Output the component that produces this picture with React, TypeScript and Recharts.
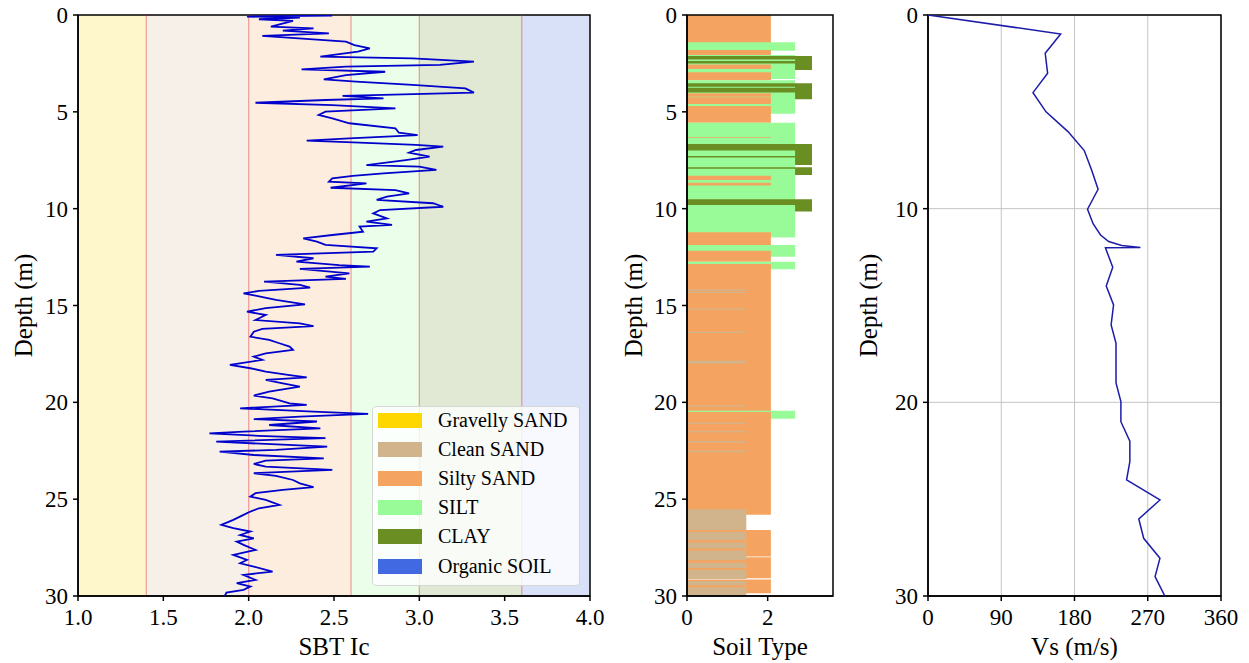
import React from 'react';
import {
  ComposedChart,
  Scatter,
  XAxis,
  YAxis,
  ReferenceArea,
  ReferenceLine,
  CartesianGrid,
} from 'recharts';

const FONT = "'Liberation Serif', 'Times New Roman', 'DejaVu Serif', serif";

// ---------- SBT Ic profile ----------
const icDepth = [
  0.0, 0.03, 0.08, 0.14, 0.22, 0.3, 0.6, 0.69, 0.81, 0.95, 1.08, 1.38, 1.55, 1.72, 1.89, 2.15, 2.24, 2.41, 2.58, 2.67,
  2.81, 2.93, 3.1, 3.32, 3.44, 3.61, 3.79, 4.01, 4.18, 4.3, 4.39, 4.53, 4.65, 4.82, 4.99, 5.16, 5.34, 5.59, 5.85, 6.08,
  6.2, 6.37, 6.49, 6.59, 6.71, 6.8, 6.97, 7.11, 7.31, 7.49, 7.75, 7.83, 8.0, 8.18, 8.31, 8.43, 8.61, 8.69, 8.92, 9.04,
  9.21, 9.38, 9.55, 9.72, 9.9,
  10.07, 10.24, 10.5, 10.67, 10.84, 10.93, 11.19, 11.36, 11.53, 11.7, 11.87, 12.05, 12.22, 12.39, 12.56, 12.73, 12.91,
  12.99, 13.11, 13.34, 13.51, 13.63, 13.77, 13.94, 14.08, 14.25, 14.37, 14.49, 14.71, 14.94, 15.14, 15.32, 15.49, 15.75,
  15.92, 16.06, 16.21, 16.35, 16.61, 16.78, 16.95, 17.12, 17.29, 17.47, 17.64, 17.81, 18.07, 18.24, 18.41, 18.59, 18.71,
  18.84, 19.02, 19.19, 19.45, 19.65, 19.79, 20.05,
  20.13, 20.31, 20.48, 20.6, 20.74, 20.87, 20.99, 21.17, 21.34, 21.51, 21.6, 21.73, 21.85, 22.03, 22.15, 22.29, 22.46,
  22.54, 22.72, 22.89, 23.01, 23.18, 23.32, 23.49, 23.66, 23.8, 24.01, 24.18, 24.38, 24.52, 24.69, 24.87, 25.04, 25.3,
  25.47, 25.64, 25.81, 26.07, 26.33, 26.5, 26.67, 26.85, 27.02, 27.19, 27.36, 27.62, 27.88, 28.14, 28.31, 28.48, 28.74,
  28.91, 29.17, 29.34, 29.51, 29.68, 29.82, 30.0,
];
const icValue = [
  2.35, 2.49, 1.99, 2.3, 2.06, 2.26, 2.13, 2.38, 2.2, 2.47, 2.08, 2.57, 2.62, 2.71, 2.64, 2.42, 2.96, 3.32, 3.12, 2.57,
  2.31, 2.8, 2.57, 2.44, 2.63, 2.96, 3.27, 3.32, 2.55, 2.79, 2.45, 2.04, 2.49, 2.86, 2.45, 2.41, 2.49, 2.59, 2.86, 2.88,
  2.99, 2.59, 2.34, 2.65, 2.98, 3.14, 2.98, 2.94, 3.06, 2.92, 2.69, 3.0, 3.1, 2.79, 2.61, 2.49, 2.47, 2.69, 2.48, 2.86,
  2.94, 2.81, 2.75, 3.08, 3.14,
  2.77, 2.73, 2.81, 2.69, 2.84, 2.65, 2.67, 2.49, 2.32, 2.4, 2.45, 2.75, 2.73, 2.16, 2.38, 2.28, 2.53, 2.71, 2.3, 2.59,
  2.45, 2.57, 2.09, 2.3, 2.36, 2.06, 1.97, 2.04, 2.16, 2.33, 2.1, 1.99, 2.1, 2.04, 2.3, 2.38, 2.08, 2.03, 2.01, 2.12,
  2.18, 2.24, 2.26, 2.1, 2.03, 2.08, 1.89, 2.01, 2.1, 2.24, 2.34, 2.1, 2.2, 2.3, 2.12, 2.03, 2.14, 2.24,
  2.34, 1.95, 2.38, 2.7, 2.3, 2.03, 2.4, 2.12, 2.42, 1.97, 1.77, 2.06, 2.45, 1.81, 2.1, 2.46, 2.16, 1.83, 2.03, 2.44,
  2.1, 2.03, 2.1, 2.49, 2.03, 2.16, 2.26, 2.3, 2.38, 2.2, 2.04, 2.01, 2.1, 2.18, 2.06, 2.01, 1.97, 1.91, 1.84, 1.91,
  2.01, 1.95, 2.03, 1.93, 1.97, 2.04, 1.91, 1.99, 1.95, 2.03, 2.14, 1.97, 2.04, 1.93, 2.01, 1.97, 1.87, 1.86,
];

// ---------- Vs profile ----------
const vsDepth = [
  0, 0.98, 1.98, 3.01, 4.01, 5.0, 6.02, 7.0, 8.0, 9.0, 10.03, 10.79, 11.36, 11.7, 11.9, 12.0, 12.02, 13.03, 13.99,
  14.97, 16.0, 16.95, 17.98, 19.0, 19.96, 21.0, 22.0, 23.06, 24.0, 25.04, 26.02, 27.02, 28.05, 29.0, 30.0,
];
const vsValue = [
  0, 163, 144, 147, 129, 145, 172, 192, 201, 209, 196, 203, 212, 222, 238, 261, 218, 227, 219, 228, 225, 231, 231,
  231, 237, 237, 248, 248, 244, 285, 259, 265, 285, 279, 291,
];

// ---------- Soil classes ----------
const soilNames = ['Gravelly SAND', 'Clean SAND', 'Silty SAND', 'SILT', 'CLAY', 'Organic SOIL'];
const soilColors = ['#FFD700', '#D2B48C', '#F4A460', '#98FB98', '#6B8E23', '#4169E1'];
const icBounds = [1.0, 1.4, 2.0, 2.6, 3.0, 3.6, 4.0];
const soilBarValue = [0, 1.47, 2.08, 2.68, 3.1, 0];

// soil-type layers (drawn in order; later layers cover earlier)
const layerTop = [
  0.0, 1.41, 1.81, 2.07, 2.12, 2.3, 2.5, 2.55, 2.96, 3.37, 3.53, 3.7, 4.0, 4.04, 4.25, 4.7, 5.56, 6.3, 6.66, 7.0, 7.36,
  7.86, 7.94, 8.3, 8.66, 9.52, 9.81, 11.22, 11.88, 12.17, 12.74, 12.86, 14.18, 14.3, 15.15, 16.35, 17.85, 20.15, 20.44,
  20.5, 21.05, 21.48, 22.0, 22.5, 25.52, 26.59, 28.0, 29.15, 26.68, 27.24, 27.65, 28.28, 28.65, 29.22, 29.55,
];
const layerBottom = [
  1.45, 1.85, 2.1, 2.15, 2.84, 2.38, 3.3, 2.79, 3.37, 5.08, 4.35, 3.75, 5.08, 4.22, 4.6, 5.56, 11.48, 6.34, 7.75, 7.28,
  7.86, 8.26, 9.52, 8.52, 8.8, 10.15, 11.48, 11.88, 12.48, 12.74, 13.13, 20.46, 14.25, 14.36, 15.22, 16.42, 18.0, 20.22,
  20.85, 25.81, 21.12, 21.55, 22.08, 22.58, 26.59, 27.96, 29.08, 29.86, 27.12, 27.55, 28.15, 28.55, 29.12, 29.45, 30.0,
];
const layerType = [
  2, 3, 2, 3, 4, 3, 3, 2, 2, 3, 4, 3, 3, 2, 2, 2, 3, 2, 4, 3, 3, 4, 3, 2, 2, 4, 3, 2, 3, 2, 3, 2, 1, 1, 1, 1, 1, 1, 3,
  2, 1, 1, 1, 1, 1, 2, 2, 2, 1, 1, 1, 1, 1, 1, 1,
];

// ---------- ticks / domains ----------
const depthDomain = [0, 30];
const depthTicks = [0, 5, 10, 15, 20, 25, 30];
const icDomain = [1, 4];
const icTicks = [1.0, 1.5, 2.0, 2.5, 3.0, 3.5, 4.0];
const soilDomain = [0, 3.62];
const soilTicks = [0, 2];
const vsDomain = [0, 360];
const vsTicks = [0, 90, 180, 270, 360];
const vsDepthTicks = [0, 10, 20, 30];

const icData = icDepth.map((d, i) => ({ depth: d, ic: icValue[i] }));
const vsData = vsDepth.map((d, i) => ({ depth: d, vs: vsValue[i] }));
const layers = layerTop.map((t, i) => ({ top: t, bottom: layerBottom[i], type: layerType[i] }));

const tickStyle = { fill: '#000', fontSize: 23, fontFamily: FONT };
const labelStyle = { fill: '#000', fontSize: 25, fontFamily: FONT };
const AX = { stroke: '#000', strokeWidth: 1.5 };
const noShape = () => <g />;

function frame(xd: number[]) {
  return (
    <ReferenceArea
      x1={xd[0]}
      x2={xd[1]}
      y1={depthDomain[0]}
      y2={depthDomain[1]}
      fill="none"
      fillOpacity={0}
      stroke="#000"
      strokeWidth={1.5}
      ifOverflow="visible"
    />
  );
}

export default function App() {
  return (
    <div
      style={{
        position: 'absolute',
        left: 0,
        top: 0,
        width: 1249,
        height: 663,
        background: '#fff',
        fontFamily: FONT,
        overflow: 'hidden',
      }}
    >
      {/* Left panel: SBT Ic */}
      <div style={{ position: 'absolute', left: 0, top: 0 }}>
        <ComposedChart width={615} height={663} margin={{ top: 15, right: 25, bottom: 7, left: 0 }}>
          <XAxis
            type="number"
            dataKey="ic"
            domain={icDomain}
            ticks={icTicks}
            tickFormatter={(v: number) => v.toFixed(1)}
            height={60}
            tick={tickStyle}
            tickSize={5}
            tickMargin={8}
            axisLine={AX}
            tickLine={AX}
            allowDataOverflow
            label={{ value: 'SBT Ic', position: 'insideBottom', offset: 1, style: labelStyle }}
          />
          <YAxis
            type="number"
            dataKey="depth"
            domain={depthDomain}
            reversed
            ticks={depthTicks}
            width={78}
            tick={tickStyle}
            tickSize={5}
            tickMargin={5}
            axisLine={AX}
            tickLine={AX}
            allowDataOverflow
            label={{ value: 'Depth (m)', angle: -90, position: 'insideLeft', offset: 23, style: { ...labelStyle, textAnchor: 'middle' } }}
          />
          {soilColors.map((c, i) => (
            <ReferenceArea
              key={'band' + i}
              x1={icBounds[i]}
              x2={icBounds[i + 1]}
              y1={0}
              y2={30}
              fill={c}
              fillOpacity={0.2}
              stroke="none"
              ifOverflow="visible"
            />
          ))}
          {icBounds.slice(1, 6).map((b) => (
            <ReferenceLine key={'bl' + b} x={b} stroke="#e03030" strokeOpacity={0.4} strokeWidth={1.3} />
          ))}
          {frame(icDomain)}
          <Scatter
            data={icData}
            line={{ stroke: '#0000cc', strokeWidth: 1.8 }}
            shape={noShape}
            isAnimationActive={false}
            legendType="none"
          />
        </ComposedChart>
        <div
          style={{
            position: 'absolute',
            left: 372,
            top: 406,
            width: 208,
            height: 180,
            background: 'rgba(255,255,255,0.8)',
            border: '1px solid #d6d6d6',
            borderRadius: 4,
            boxSizing: 'border-box',
          }}
        >
          {soilNames.map((n, i) => (
            <div
              key={n}
              style={{
                position: 'absolute',
                left: 5,
                top: 5.5 + i * 29.2,
                height: 15,
                display: 'flex',
                alignItems: 'center',
                whiteSpace: 'nowrap',
              }}
            >
              <div style={{ width: 44, height: 15, background: soilColors[i] }} />
              <span style={{ marginLeft: 16, fontSize: 20, lineHeight: '15px', color: '#000' }}>{n}</span>
            </div>
          ))}
        </div>
      </div>

      {/* Middle panel: Soil type */}
      <div style={{ position: 'absolute', left: 605, top: 0 }}>
        <ComposedChart width={253} height={663} margin={{ top: 15, right: 25, bottom: 7, left: 0 }}>
          <XAxis
            type="number"
            dataKey="x"
            domain={soilDomain}
            ticks={soilTicks}
            height={60}
            tick={tickStyle}
            tickSize={5}
            tickMargin={8}
            axisLine={AX}
            tickLine={AX}
            allowDataOverflow
            label={{ value: 'Soil Type', position: 'insideBottom', offset: 1, style: labelStyle }}
          />
          <YAxis
            type="number"
            dataKey="y"
            domain={depthDomain}
            reversed
            ticks={depthTicks}
            width={82}
            tick={tickStyle}
            tickSize={5}
            tickMargin={5}
            axisLine={AX}
            tickLine={AX}
            allowDataOverflow
            label={{ value: 'Depth (m)', angle: -90, position: 'insideLeft', offset: 28, style: { ...labelStyle, textAnchor: 'middle' } }}
          />
          {layers.map((l, i) => (
            <ReferenceArea
              key={'ly' + i}
              x1={0}
              x2={soilBarValue[l.type]}
              y1={l.top}
              y2={l.bottom}
              fill={soilColors[l.type]}
              fillOpacity={1}
              stroke="none"
              ifOverflow="visible"
            />
          ))}
          {frame(soilDomain)}
        </ComposedChart>
      </div>

      {/* Right panel: Vs */}
      <div style={{ position: 'absolute', left: 845, top: 0 }}>
        <ComposedChart width={401} height={663} margin={{ top: 15, right: 25, bottom: 7, left: 0 }}>
          <CartesianGrid stroke="#c4c4c4" strokeWidth={1} />
          <XAxis
            type="number"
            dataKey="vs"
            domain={vsDomain}
            ticks={vsTicks}
            height={60}
            tick={tickStyle}
            tickSize={5}
            tickMargin={8}
            axisLine={AX}
            tickLine={AX}
            allowDataOverflow
            label={{ value: 'Vs (m/s)', position: 'insideBottom', offset: 1, style: labelStyle }}
          />
          <YAxis
            type="number"
            dataKey="depth"
            domain={depthDomain}
            reversed
            ticks={vsDepthTicks}
            width={83}
            tick={tickStyle}
            tickSize={5}
            tickMargin={5}
            axisLine={AX}
            tickLine={AX}
            allowDataOverflow
            label={{ value: 'Depth (m)', angle: -90, position: 'insideLeft', offset: 23, style: { ...labelStyle, textAnchor: 'middle' } }}
          />
          {frame(vsDomain)}
          <Scatter
            data={vsData}
            line={{ stroke: '#1c1ca8', strokeWidth: 1.5 }}
            shape={noShape}
            isAnimationActive={false}
            legendType="none"
          />
        </ComposedChart>
      </div>
    </div>
  );
}
